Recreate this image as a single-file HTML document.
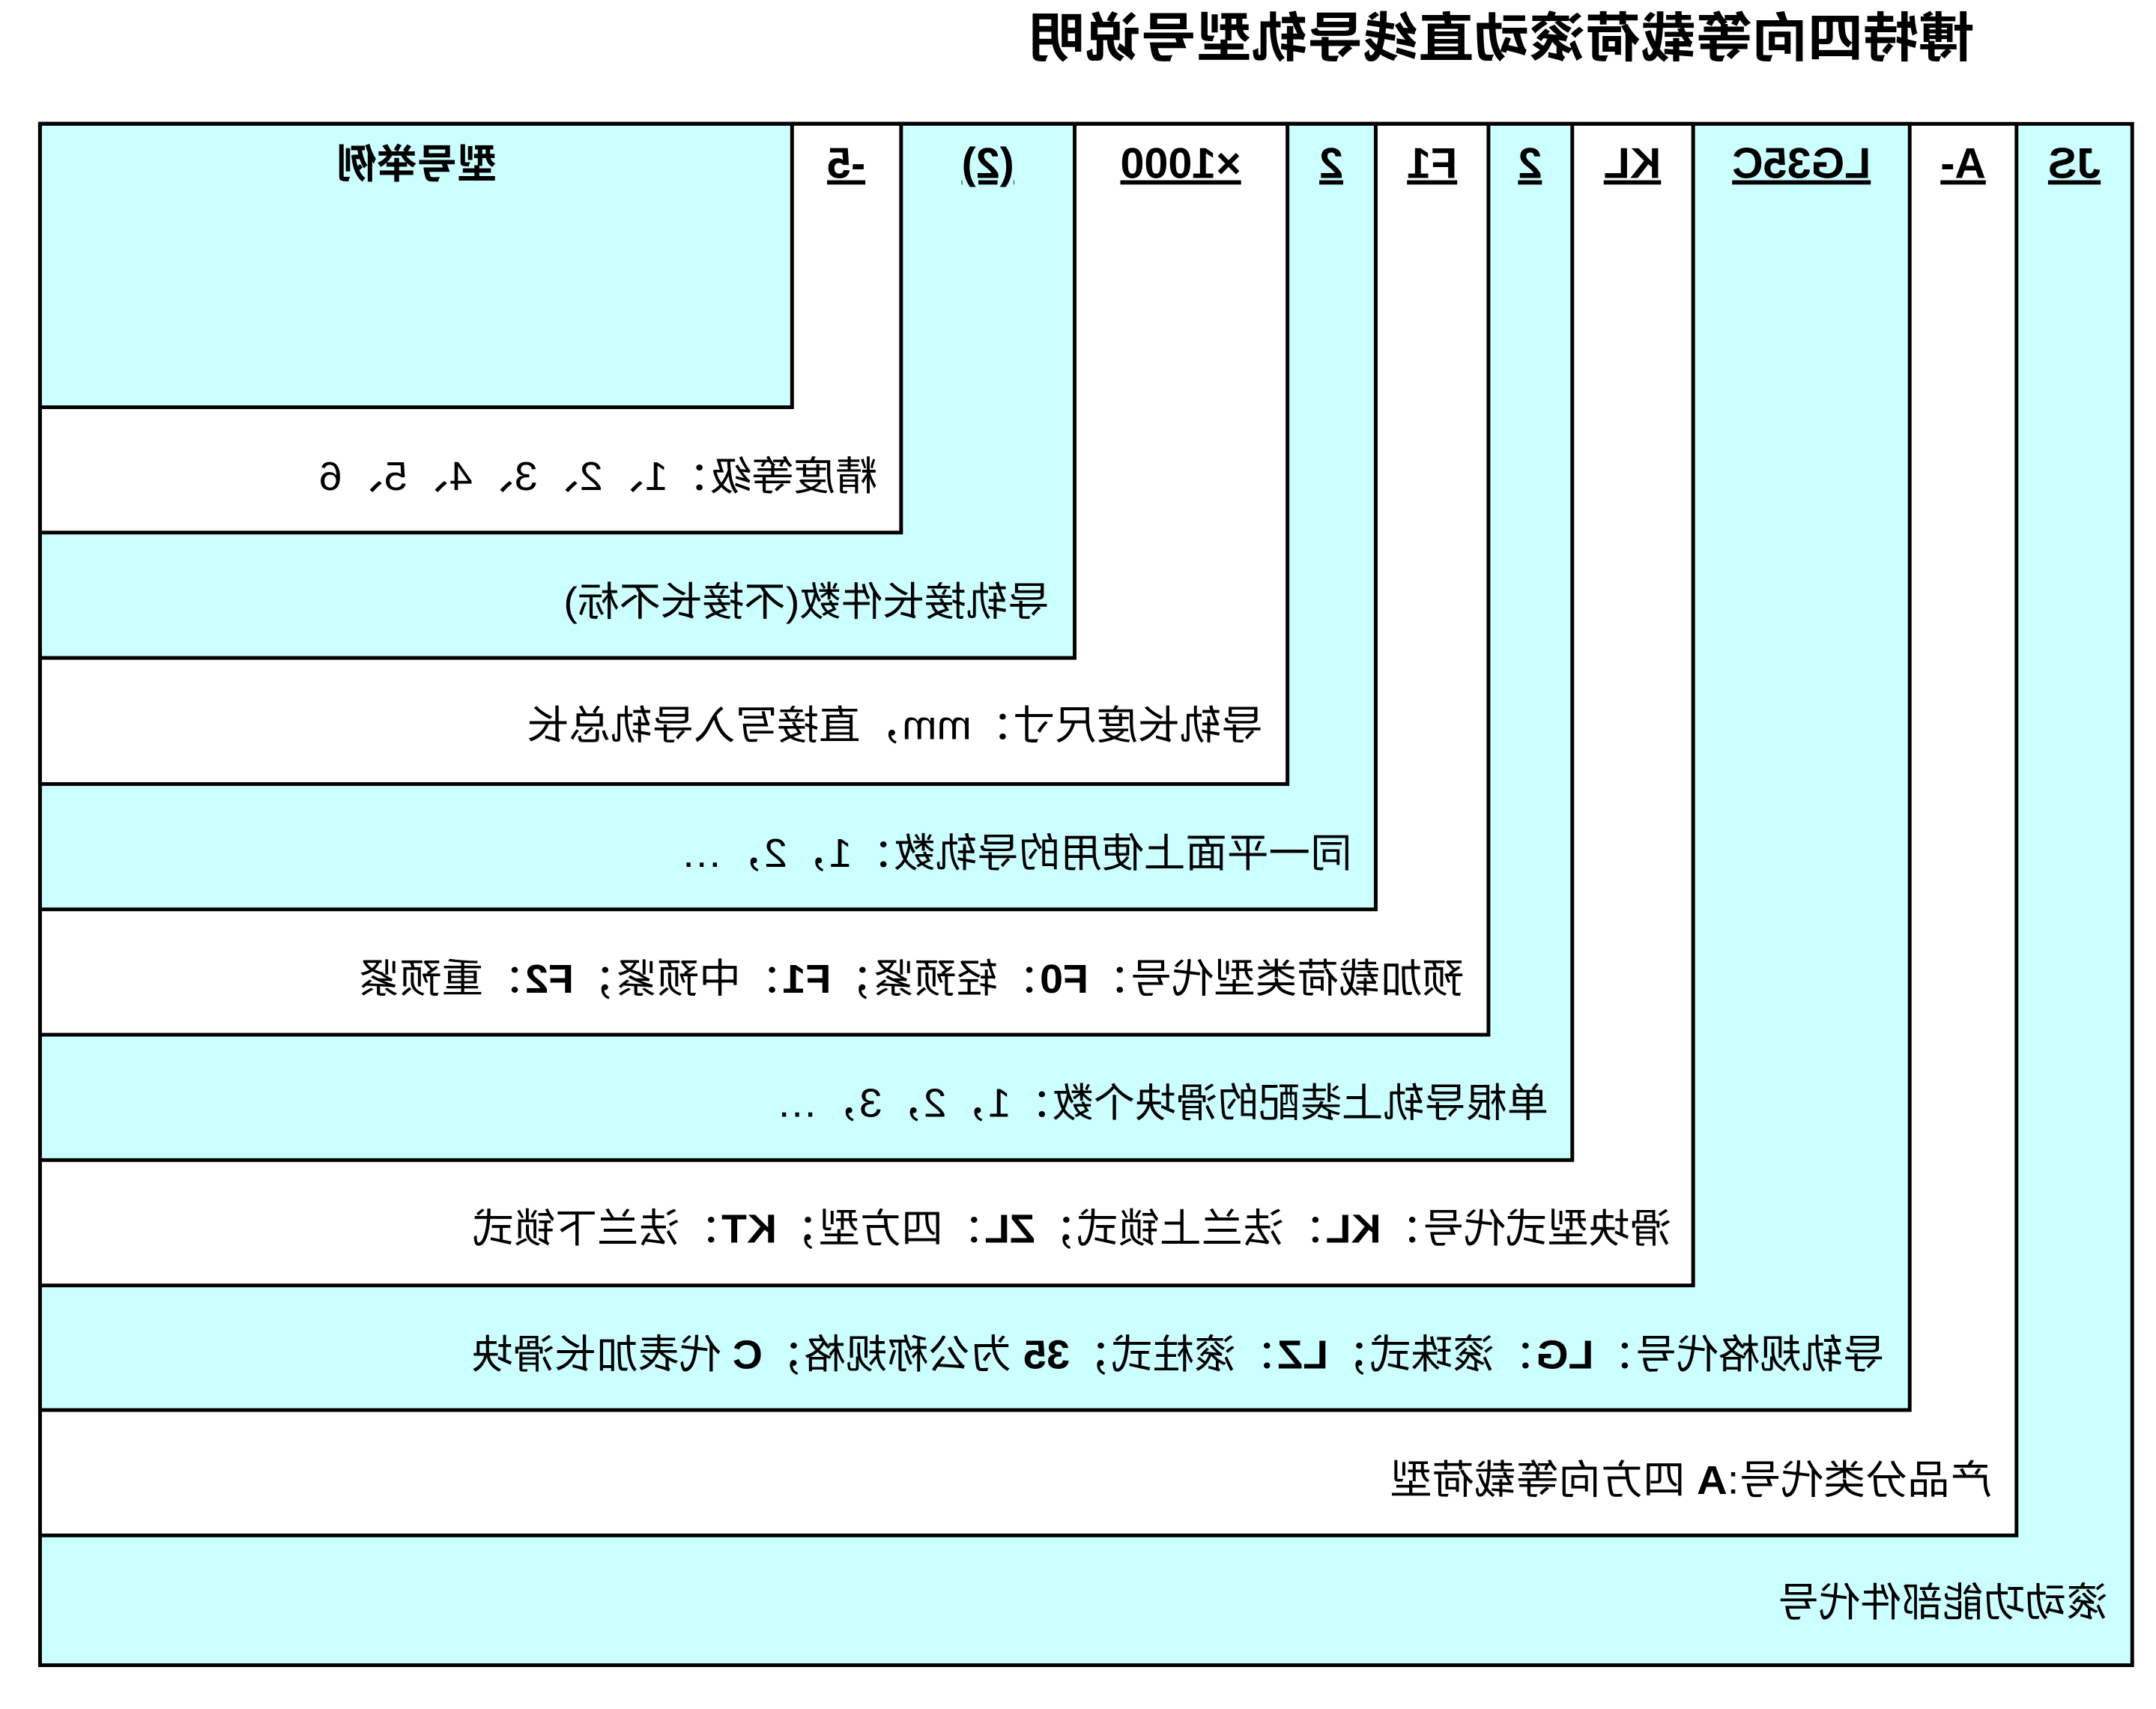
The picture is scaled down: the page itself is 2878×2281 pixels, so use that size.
<!DOCTYPE html>
<html><head><meta charset="utf-8"><style>
html,body{margin:0;padding:0;background:#fff;}
svg{display:block;}
text{font-family:"Liberation Sans","Noto Sans CJK SC",sans-serif;fill:#000;}
tspan.b{font-weight:bold;}
</style></head><body>
<svg width="2878" height="2281" viewBox="0 0 2878 2281" xmlns="http://www.w3.org/2000/svg">
<g transform="scale(0.99)">
<g stroke="#000" stroke-width="5">
<rect x="54" y="167" width="2821" height="2078" fill="#ccffff"/>
<rect x="54" y="167" width="2665" height="1903" fill="#ffffff"/>
<rect x="54" y="167" width="2521" height="1734" fill="#ccffff"/>
<rect x="54" y="167" width="2229" height="1566" fill="#ffffff"/>
<rect x="54" y="167" width="2066" height="1397" fill="#ccffff"/>
<rect x="54" y="167" width="1953" height="1228" fill="#ffffff"/>
<rect x="54" y="167" width="1801" height="1059" fill="#ccffff"/>
<rect x="54" y="167" width="1682" height="890" fill="#ffffff"/>
<rect x="54" y="167" width="1395" height="720" fill="#ccffff"/>
<rect x="54" y="167" width="1161" height="551" fill="#ffffff"/>
<rect x="54" y="167" width="1014" height="382" fill="#ccffff"/>
</g>
<text transform="translate(2662,52) scale(-1,1)" font-size="72" font-weight="bold" dominant-baseline="central" textLength="1274" lengthAdjust="spacingAndGlyphs">博特四向等载荷滚动直线导轨型号说明</text>
<g font-size="58" font-weight="bold" text-anchor="middle" style="text-decoration:underline">
<text transform="translate(2797,240) scale(-1,1)">JS</text>
<text transform="translate(2647,240) scale(-1,1)">A-</text>
<text transform="translate(2429,240) scale(-1,1)">LG35C</text>
<text transform="translate(2201,240) scale(-1,1)">KL</text>
<text transform="translate(2063,240) scale(-1,1)">2</text>
<text transform="translate(1931,240) scale(-1,1)">F1</text>
<text transform="translate(1795,240) scale(-1,1)">2</text>
<text transform="translate(1592,240) scale(-1,1)">×1000</text>
<text transform="translate(1332,240) scale(-1,1)">(2)</text>
<text transform="translate(1141,240) scale(-1,1)">-5</text>
</g>
<text transform="translate(562,222) scale(-1,1)" font-size="54" font-weight="bold" text-anchor="middle" dominant-baseline="central">型号举例</text>
<g font-size="54" dominant-baseline="central">
<text transform="translate(1183,643) scale(-1,1)" textLength="753" lengthAdjust="spacingAndGlyphs">精度等级：1、2、3、4、5、6</text>
<text transform="translate(1415,812) scale(-1,1)" textLength="655" lengthAdjust="spacingAndGlyphs">导轨接长件数(不接长不标)</text>
<text transform="translate(1703,979) scale(-1,1)" textLength="992" lengthAdjust="spacingAndGlyphs">导轨长度尺寸：mm，直接写入导轨总长</text>
<text transform="translate(1823,1151) scale(-1,1)" textLength="905" lengthAdjust="spacingAndGlyphs">同一平面上使用的导轨数：1，2，…</text>
<text transform="translate(1974,1320) scale(-1,1)" textLength="1491" lengthAdjust="spacingAndGlyphs">预加载荷类型代号：<tspan class="b">F0</tspan>：轻预紧；<tspan class="b">F1</tspan>：中预紧；<tspan class="b">F2</tspan>：重预紧</text>
<text transform="translate(2088,1488) scale(-1,1)" textLength="1041" lengthAdjust="spacingAndGlyphs">单根导轨上装配的滑块个数：1，2，3，…</text>
<text transform="translate(2254,1657) scale(-1,1)" textLength="1617" lengthAdjust="spacingAndGlyphs">滑块型式代号：<tspan class="b">KL</tspan>：法兰上锁式；<tspan class="b">ZL</tspan>：四方型；<tspan class="b">KT</tspan>：法兰下锁式</text>
<text transform="translate(2541,1827) scale(-1,1)" textLength="1905" lengthAdjust="spacingAndGlyphs">导轨规格代号：<tspan class="b">LG</tspan>：滚珠式；<tspan class="b">LZ</tspan>：滚柱式；<tspan class="b">35</tspan> 为公称规格；<tspan class="b">C</tspan> 代表加长滑块</text>
<text transform="translate(2686,1996) scale(-1,1)" textLength="812" lengthAdjust="spacingAndGlyphs">产品分类代号:<tspan class="b">A</tspan> 四方向等载荷型</text>
<text transform="translate(2842,2161) scale(-1,1)" textLength="445" lengthAdjust="spacingAndGlyphs">滚动功能部件代号</text>
</g>
</g>
</svg>
</body></html>
